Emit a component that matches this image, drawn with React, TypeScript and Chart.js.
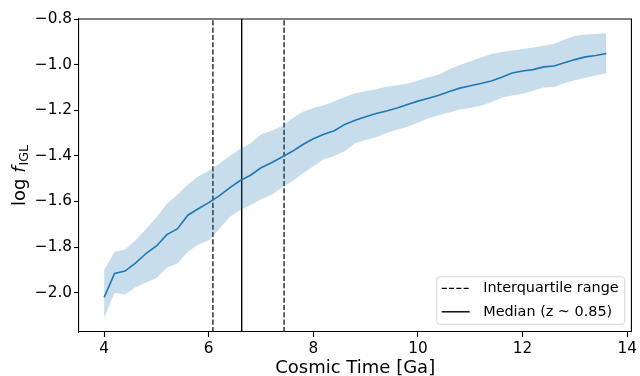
import React, { useEffect, useRef } from "react";
import { Chart, registerables } from "chart.js";

Chart.register(...registerables);

// ---- data ----
const TIMES = [
  4.0, 4.2, 4.4, 4.6, 4.8, 5.0, 5.2, 5.4, 5.6, 5.8, 6.0, 6.2, 6.4, 6.6, 6.8, 7.0,
  7.2, 7.4, 7.6, 7.8, 8.0, 8.2, 8.4, 8.6, 8.8, 9.0, 9.2, 9.4, 9.6, 9.8, 10.0, 10.2,
  10.4, 10.6, 10.8, 11.0, 11.2, 11.4, 11.6, 11.8, 12.0, 12.2, 12.4, 12.6, 12.8,
  13.0, 13.2, 13.4, 13.6,
];
const MEDIAN = [
  -2.02, -1.915, -1.905, -1.87, -1.828, -1.795, -1.745, -1.72, -1.66, -1.632,
  -1.605, -1.575, -1.54, -1.508, -1.485, -1.452, -1.43, -1.405, -1.38, -1.35,
  -1.325, -1.305, -1.29, -1.262, -1.244, -1.228, -1.214, -1.203, -1.19, -1.175,
  -1.16, -1.147, -1.134, -1.118, -1.103, -1.093, -1.083, -1.072, -1.055, -1.037,
  -1.028, -1.022, -1.01, -1.006, -0.992, -0.978, -0.966, -0.96, -0.951,
];
const BAND_HIGH = [
  -1.9, -1.82, -1.81, -1.77, -1.72, -1.67, -1.61, -1.57, -1.525, -1.49, -1.465,
  -1.435, -1.4, -1.37, -1.345, -1.305, -1.29, -1.27, -1.235, -1.207, -1.19,
  -1.178, -1.16, -1.142, -1.125, -1.117, -1.108, -1.097, -1.09, -1.083, -1.07,
  -1.055, -1.043, -1.02, -1.002, -0.985, -0.97, -0.953, -0.945, -0.938, -0.932,
  -0.925, -0.917, -0.908, -0.89, -0.875, -0.868, -0.866, -0.863,
];
const BAND_LOW = [
  -2.11, -2.0, -2.008, -1.976, -1.955, -1.935, -1.89, -1.872, -1.82, -1.789,
  -1.77, -1.72, -1.667, -1.638, -1.615, -1.59, -1.57, -1.54, -1.51, -1.477,
  -1.445, -1.415, -1.4, -1.38, -1.345, -1.33, -1.318, -1.3, -1.285, -1.272,
  -1.255, -1.235, -1.222, -1.21, -1.197, -1.19, -1.18, -1.165, -1.145, -1.135,
  -1.128, -1.115, -1.1, -1.098, -1.08, -1.068, -1.058, -1.048, -1.038,
];
const IQR_LOW_TIME = 6.08;
const IQR_HIGH_TIME = 7.44;
const MEDIAN_TIME = 6.63;

const X_TICKS = [4, 6, 8, 10, 12, 14];
const Y_TICKS = [-2.0, -1.8, -1.6, -1.4, -1.2, -1.0, -0.8];
const X_MIN = 3.52;
const X_MAX = 14.08;
const Y_MIN = -2.172;
const Y_MAX = -0.8;

const X_TITLE = "Cosmic Time [Ga]";
const Y_TITLE_PREFIX = "log ";
const Y_TITLE_VAR = "f";
const Y_TITLE_SUB = "IGL";
const LEGEND_LABELS = ["Interquartile range", "Median (z ~ 0.85)"];

const FONT = "'DejaVu Sans', sans-serif";
const BLUE = "#1f77b4";
const BAND = "rgba(31,119,180,0.25)";
const DASH = [5.1, 2.2];

const decorPlugin = {
  id: "decor",
  afterDraw(chart: any) {
    const { ctx, chartArea } = chart;
    const { left, right, top, bottom } = chartArea;
    ctx.save();
    // frame top/right
    ctx.strokeStyle = "#000";
    ctx.lineWidth = 1.1;
    ctx.beginPath();
    ctx.moveTo(left, top);
    ctx.lineTo(right, top);
    ctx.lineTo(right, bottom);
    ctx.stroke();

    // x title
    ctx.fillStyle = "#000";
    ctx.font = `18px ${FONT}`;
    ctx.textAlign = "center";
    ctx.textBaseline = "alphabetic";
    ctx.fillText(X_TITLE, (left + right) / 2, 373);

    // y title (rotated, with italic variable and subscript)
    const cy = (top + bottom) / 2;
    ctx.translate(25, cy);
    ctx.rotate(-Math.PI / 2);
    const fMain = `18px ${FONT}`;
    const fIt = `italic 18px ${FONT}`;
    const fSub = `12.6px ${FONT}`;
    ctx.font = fMain;
    const w1 = ctx.measureText(Y_TITLE_PREFIX).width;
    ctx.font = fIt;
    const w2 = ctx.measureText(Y_TITLE_VAR).width;
    ctx.font = fSub;
    const w3 = ctx.measureText(Y_TITLE_SUB).width;
    let x0 = -(w1 + w2 + 1 + w3) / 2;
    ctx.textAlign = "left";
    ctx.font = fMain;
    ctx.fillText(Y_TITLE_PREFIX, x0, 0);
    x0 += w1;
    ctx.font = fIt;
    ctx.fillText(Y_TITLE_VAR, x0, 0);
    x0 += w2 + 1;
    ctx.font = fSub;
    ctx.fillText(Y_TITLE_SUB, x0, 3.2);
    ctx.restore();

    // legend
    ctx.save();
    const bw = 188;
    const bh = 47.5;
    const bx = right - 6.7 - bw;
    const by = bottom - 7.7 - bh;
    ctx.beginPath();
    if ((ctx as any).roundRect) (ctx as any).roundRect(bx, by, bw, bh, 3);
    else ctx.rect(bx, by, bw, bh);
    ctx.fillStyle = "rgba(255,255,255,0.8)";
    ctx.fill();
    ctx.strokeStyle = "rgba(204,204,204,0.8)";
    ctx.lineWidth = 1;
    ctx.stroke();
    const rows = [by + 11.6, by + 35];
    ctx.strokeStyle = "#000";
    ctx.lineWidth = 1.4;
    // dashed handle
    ctx.setLineDash(DASH);
    ctx.beginPath();
    ctx.moveTo(bx + 5, rows[0]);
    ctx.lineTo(bx + 33, rows[0]);
    ctx.stroke();
    ctx.setLineDash([]);
    ctx.beginPath();
    ctx.moveTo(bx + 5, rows[1]);
    ctx.lineTo(bx + 33, rows[1]);
    ctx.stroke();
    ctx.fillStyle = "#000";
    ctx.font = `14.4px ${FONT}`;
    ctx.textAlign = "left";
    ctx.textBaseline = "middle";
    ctx.fillText(LEGEND_LABELS[0], bx + 46.5, rows[0]);
    ctx.fillText(LEGEND_LABELS[1], bx + 46.5, rows[1]);
    ctx.restore();
  },
};

function vline(x: number, dashed: boolean) {
  return {
    label: dashed ? LEGEND_LABELS[0] : LEGEND_LABELS[1],
    data: [
      { x, y: Y_MIN },
      { x, y: Y_MAX },
    ],
    borderColor: dashed ? "#222" : "#000",
    borderWidth: 1.4,
    borderDash: dashed ? DASH : [],
    pointRadius: 0,
    fill: false,
    tension: 0,
  };
}

export default function App() {
  const ref = useRef<HTMLCanvasElement | null>(null);
  useEffect(() => {
    if (!ref.current) return;
    const chart = new Chart(ref.current, {
      type: "line",
      data: {
        datasets: [
          {
            label: "band low",
            data: TIMES.map((t, i) => ({ x: t, y: BAND_LOW[i] })),
            borderWidth: 0,
            borderColor: "rgba(0,0,0,0)",
            pointRadius: 0,
            fill: false,
          },
          {
            label: "band high",
            data: TIMES.map((t, i) => ({ x: t, y: BAND_HIGH[i] })),
            borderWidth: 0,
            borderColor: "rgba(0,0,0,0)",
            backgroundColor: BAND,
            pointRadius: 0,
            fill: "-1",
          },
          {
            label: "median",
            data: TIMES.map((t, i) => ({ x: t, y: MEDIAN[i] })),
            borderColor: BLUE,
            borderWidth: 1.6,
            pointRadius: 0,
            fill: false,
          },
          vline(IQR_LOW_TIME, true),
          vline(IQR_HIGH_TIME, true),
          vline(MEDIAN_TIME, false),
        ] as any,
      },
      options: {
        animation: false,
        responsive: false,
        devicePixelRatio: 1,
        layout: { padding: { top: 19, right: 5, left: 0, bottom: 0 } },
        plugins: {
          legend: { display: false },
          tooltip: { enabled: false },
        },
        scales: {
          x: {
            type: "linear",
            min: X_MIN,
            max: X_MAX,
            afterBuildTicks: (s: any) => {
              s.ticks = X_TICKS.map((v) => ({ value: v }));
            },
            afterFit: (s: any) => {
              s.height = 44;
            },
            grid: {
              drawOnChartArea: false,
              drawTicks: true,
              tickLength: 5,
              tickColor: "#000",
              tickWidth: 1.1,
            },
            border: { display: true, color: "#000", width: 1.1 },
            ticks: {
              color: "#000",
              font: { family: FONT, size: 15.3 },
              padding: 3,
              maxRotation: 0,
              autoSkip: false,
              callback: (v: any) => String(v),
            },
          },
          y: {
            type: "linear",
            min: Y_MIN,
            max: Y_MAX,
            afterBuildTicks: (s: any) => {
              s.ticks = Y_TICKS.map((v) => ({ value: v }));
            },
            afterFit: (s: any) => {
              s.width = 79;
            },
            grid: {
              drawOnChartArea: false,
              drawTicks: true,
              tickLength: 5,
              tickColor: "#000",
              tickWidth: 1.1,
            },
            border: { display: true, color: "#000", width: 1.1 },
            ticks: {
              color: "#000",
              font: { family: FONT, size: 15.3 },
              padding: 2,
              autoSkip: false,
              callback: (v: any) => Number(v).toFixed(1).replace("-", "\u2212"),
            },
          },
        },
      } as any,
      plugins: [decorPlugin],
    });
    return () => chart.destroy();
  }, []);

  return (
    <div style={{ position: "fixed", left: 0, top: 0, width: 640, height: 376, background: "#fff" }}>
      <canvas ref={ref} width={640} height={376} style={{ width: 640, height: 376, display: "block" }} />
    </div>
  );
}
